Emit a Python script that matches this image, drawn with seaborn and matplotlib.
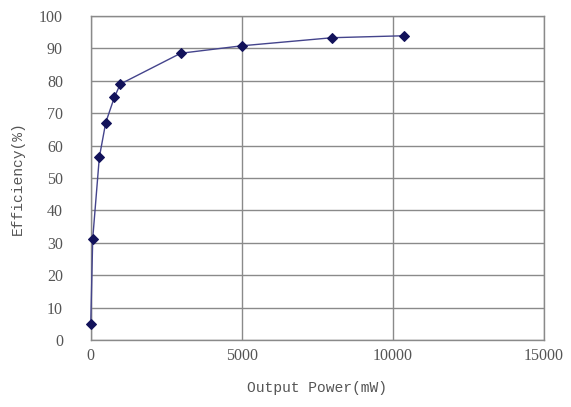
import matplotlib
matplotlib.use("Agg")
import matplotlib.pyplot as plt
import seaborn as sns
import pandas as pd

power_mw = [0, 66, 285, 497, 782, 980, 2980, 5000, 8000, 10375]
efficiency = [4.9, 31.3, 56.4, 67.1, 74.9, 79.0, 88.5, 90.8, 93.3, 93.9]
x_ticks = [0, 5000, 10000, 15000]
y_ticks = list(range(0, 101, 10))

sns.set_theme(style="white")
df = pd.DataFrame({"power": power_mw, "eff": efficiency})

fig = plt.figure(figsize=(5.71, 4.07), dpi=100)
ax = fig.add_axes([0.1589, 0.1646, 0.7933, 0.7961])
sns.lineplot(data=df, x="power", y="eff", ax=ax, color="#44448c", linewidth=1.0,
             marker="D", markersize=5.5, markerfacecolor="#12125a", markeredgecolor="#12125a",
             clip_on=False, zorder=5)
ax.set_xlim(0, 15000)
ax.set_ylim(0, 100)
ax.set_xticks(x_ticks)
ax.set_yticks(y_ticks)
ax.grid(True, axis="both", color="#8a8a8a", linewidth=1.0)
for s in ax.spines.values():
    s.set_color("#8a8a8a")
    s.set_linewidth(1.0)
ax.tick_params(axis="x", length=0, labelsize=11.5, labelcolor="#555555", pad=6)
ax.tick_params(axis="y", length=0, labelsize=11.5, labelcolor="#555555", pad=20)
for lab in ax.get_xticklabels() + ax.get_yticklabels():
    lab.set_fontfamily("Liberation Serif")
ax.set_xlabel("Output Power(mW)", fontfamily="Liberation Mono", fontsize=10.5, color="#555555", labelpad=12)
ax.set_ylabel("Efficiency(%)", fontfamily="Liberation Mono", fontsize=10.5, color="#555555", labelpad=10)
fig.savefig("out.png", dpi=100)
